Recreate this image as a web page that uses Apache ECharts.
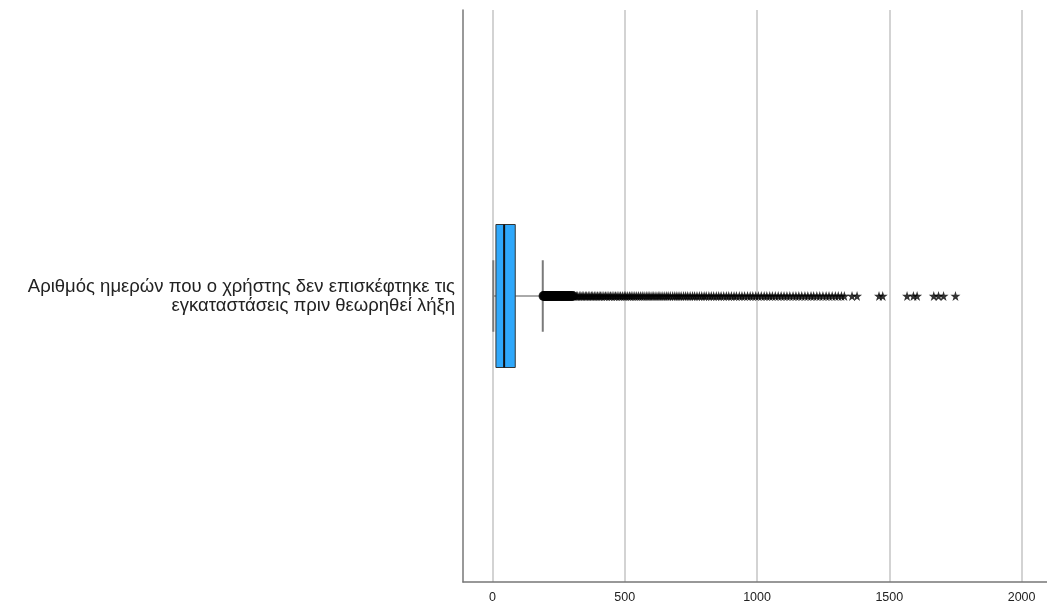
<!DOCTYPE html>
<html>
<head>
<meta charset="utf-8">
<script src="https://cdn.jsdelivr.net/npm/echarts@6/dist/echarts.min.js"></script>
<style>
html,body{margin:0;padding:0;background:#fff;overflow:hidden;}
#chart{width:1047px;height:606px;}
</style>
</head>
<body>
<div id="chart"></div>
<script>
// ---- data ----
const categories = ['Αριθμός ημερών που ο χρήστης δεν επισκέφτηκε τις\nεγκαταστάσεις πριν θεωρηθεί λήξη'];
// [lower whisker, Q1, median, Q3, upper whisker]
const boxStats = [3, 13, 44, 86, 190];
// mild outliers (circles)
const outliersMild = [193, 196, 199, 202, 205, 208, 212, 215, 218, 222, 225, 229, 232, 236, 240, 243, 247, 251, 255, 259, 263, 267, 271, 276, 280, 284, 289, 293, 298, 303];
// extreme outliers (stars)
const outliersExtreme = [306, 311, 317, 322, 328, 334, 339, 345, 351, 356, 362, 368, 374, 379, 385, 391, 397, 403, 408, 414, 421, 427, 433, 440, 446, 452, 459, 465, 471, 478, 484, 491, 498, 504, 511, 518, 524, 531, 538, 545, 552, 559, 566, 573, 581, 588, 595, 603, 610, 618, 626, 633, 641, 649, 657, 664, 672, 681, 689, 697, 705, 713, 722, 730, 738, 747, 756, 764, 773, 782, 791, 800, 808, 818, 827, 836, 846, 855, 864, 874, 884, 893, 903, 913, 922, 933, 943, 953, 964, 974, 984, 995, 1005, 1016, 1027, 1037, 1048, 1058, 1069, 1080, 1091, 1102, 1113, 1124, 1136, 1147, 1158, 1169, 1181, 1192, 1204, 1214, 1226, 1237, 1249, 1261, 1272, 1284, 1296, 1307, 1319, 1330, 1359, 1378, 1461, 1475, 1567, 1591, 1605, 1668, 1686, 1705, 1750];
const xTicks = [0, 500, 1000, 1500, 2000];

const STAR = 'path://M50,0 L61,35 L98,35 L68,57 L79,91 L50,70 L21,91 L32,57 L2,35 L39,35 Z';

const chart = echarts.init(document.getElementById('chart'), null, {renderer: 'canvas'});
const option = {
  animation: false,
  backgroundColor: '#ffffff',
  grid: {left: 463, right: 0, top: 10, bottom: 24, containLabel: false},
  xAxis: {
    type: 'value',
    min: -111.5,
    max: 2096,
    splitNumber: 5,
    axisLine: {show: true, lineStyle: {color: '#777', width: 1.5}},
    axisTick: {show: false},
    axisLabel: {
      show: true, showMinLabel: false, showMaxLabel: false,
      color: '#222', fontSize: 12.5, margin: 9,
      fontFamily: 'Liberation Sans, Arial, sans-serif',
      formatter: function (v) { return xTicks.indexOf(v) >= 0 ? String(v) : ''; }
    },
    splitLine: {show: true, showMinLine: false, showMaxLine: false, lineStyle: {color: '#d3d3d3', width: 2}}
  },
  yAxis: {
    type: 'category',
    data: categories,
    axisLine: {show: true, onZero: false, lineStyle: {color: '#777', width: 1.5}},
    axisTick: {show: false},
    splitLine: {show: false},
    axisLabel: {
      color: '#222', fontSize: 18.5, lineHeight: 19, margin: 8, align: 'right',
      padding: [9, 0, 0, 0],
      fontFamily: 'Liberation Sans, Arial, sans-serif'
    }
  },
  series: [
    {
      type: 'custom',
      data: [boxStats.concat([0])],
      encode: {x: [0, 1, 2, 3, 4], y: 5},
      z: 3,
      renderItem: function (params, api) {
        const lo = api.value(0), q1 = api.value(1), md = api.value(2), q3 = api.value(3), hi = api.value(4);
        const cy = api.coord([0, 0])[1];
        const band = api.size([0, 1])[1];
        const bh = band * 0.25;
        const ch = band * 0.0625;
        const xLo = api.coord([lo, 0])[0];
        const xQ1 = api.coord([q1, 0])[0];
        const xMd = api.coord([md, 0])[0];
        const xQ3 = api.coord([q3, 0])[0];
        const xHi = api.coord([hi, 0])[0];
        return {
          type: 'group',
          children: [
            {type: 'line', shape: {x1: xLo, y1: cy, x2: xQ1, y2: cy}, style: {stroke: '#555', lineWidth: 1}},
            {type: 'line', shape: {x1: xQ3, y1: cy, x2: xHi, y2: cy}, style: {stroke: '#555', lineWidth: 1}},
            {type: 'line', shape: {x1: xLo, y1: cy - ch, x2: xLo, y2: cy + ch}, style: {stroke: '#7a7a7a', lineWidth: 2}},
            {type: 'line', shape: {x1: xHi, y1: cy - ch, x2: xHi, y2: cy + ch}, style: {stroke: '#7a7a7a', lineWidth: 2}},
            {type: 'rect', shape: {x: xQ1, y: cy - bh / 2, width: xQ3 - xQ1, height: bh}, style: {fill: '#2fa8fb', stroke: '#333', lineWidth: 1}},
            {type: 'line', shape: {x1: xMd, y1: cy - bh / 2, x2: xMd, y2: cy + bh / 2}, style: {stroke: '#111', lineWidth: 2}}
          ]
        };
      }
    },
    {
      type: 'scatter',
      data: outliersMild.map(v => [v, 0]),
      symbol: 'circle',
      symbolSize: 10,
      itemStyle: {color: '#000'},
      z: 4
    },
    {
      type: 'scatter',
      data: outliersExtreme.map(v => [v, 0]),
      symbol: STAR,
      symbolSize: 10,
      itemStyle: {color: '#000'},
      z: 4
    }
  ]
};
chart.setOption(option);
</script>
</body>
</html>
